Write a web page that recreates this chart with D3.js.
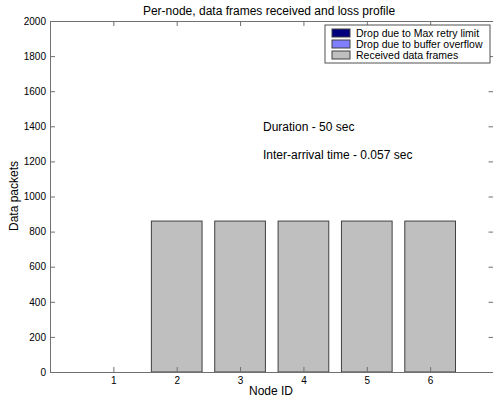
<!DOCTYPE html>
<html>
<head>
<meta charset="utf-8">
<script src="https://cdn.jsdelivr.net/npm/d3@7"></script>
<style>
  body { margin: 0; background: #fff; }
  svg text { font-family: "Liberation Sans", Arial, sans-serif; fill: #000; }
  .axis path, .axis line { stroke: #707070; }
  .axis text { font-size: 10px; }
</style>
</head>
<body>
<div class="chart"></div>
<script>
// chart data
var nodes = [1, 2, 3, 4, 5, 6];
var dropRetry = [0, 0, 0, 0, 0, 0];
var dropBuffer = [0, 0, 0, 0, 0, 0];
var received = [0, 860, 860, 860, 860, 860];
var seriesNames = ["Drop due to Max retry limit", "Drop due to buffer overflow", "Received data frames"];
var seriesColors = ["#00007f", "#7f7fff", "#bfbfbf"];
var yTicks = [0, 200, 400, 600, 800, 1000, 1200, 1400, 1600, 1800, 2000];

var svgWidth = 493;
var svgHeight = 403;
var margin = { top: 21, right: 0, bottom: 31, left: 50 };
var chartWidth = 443.5;
var chartHeight = svgHeight - margin.top - margin.bottom;

var svg = d3.select(".chart")
  .append("svg")
  .attr("width", svgWidth)
  .attr("height", svgHeight);

var chartGroup = svg.append("g")
  .attr("transform", `translate(${margin.left}, ${margin.top})`);

var x = d3.scaleLinear().domain([0, 7]).range([0, chartWidth]);
var y = d3.scaleLinear().domain([0, 2000]).range([chartHeight, 0]);

// stack the series
var table = nodes.map(function(n, i) {
  return { node: n, retry: dropRetry[i], buffer: dropBuffer[i], recv: received[i] };
});
var stack = d3.stack().keys(["retry", "buffer", "recv"]);
var layers = stack(table);

var barW = 0.8;
layers.forEach(function(layer, k) {
  chartGroup.selectAll(".bar" + k)
    .data(layer.filter(function(d) { return d[1] - d[0] > 0; }))
    .enter()
    .append("rect")
    .attr("x", d => x(d.data.node - barW / 2))
    .attr("width", x(barW) - x(0))
    .attr("y", d => y(d[1]))
    .attr("height", d => y(d[0]) - y(d[1]))
    .attr("fill", seriesColors[k])
    .attr("stroke", "#404040")
    .attr("stroke-width", 1);
});

// axes (ticks point inward like matlab)
var fmt = d3.format("d");
var bottomAxis = d3.axisBottom(x).tickValues(nodes).tickFormat(fmt).tickSizeInner(-5).tickSizeOuter(0).tickPadding(5);
var topAxis = d3.axisTop(x).tickValues(nodes).tickSizeInner(-5).tickSizeOuter(0).tickFormat("");
var leftAxis = d3.axisLeft(y).tickValues(yTicks).tickFormat(fmt).tickSizeInner(-5).tickSizeOuter(0).tickPadding(4);
var rightAxis = d3.axisRight(y).tickValues(yTicks).tickSizeInner(-5).tickSizeOuter(0).tickFormat("");

chartGroup.append("g").attr("class", "axis")
  .attr("transform", `translate(0, ${chartHeight})`)
  .call(bottomAxis);
chartGroup.append("g").attr("class", "axis").call(topAxis);
chartGroup.append("g").attr("class", "axis").call(leftAxis);
chartGroup.append("g").attr("class", "axis")
  .attr("transform", `translate(${chartWidth}, 0)`)
  .call(rightAxis);

// title and labels
svg.append("text")
  .attr("x", 269).attr("y", 15)
  .attr("text-anchor", "middle")
  .style("font-size", "12px")
  .text("Per-node, data frames received and loss profile");

svg.append("text")
  .attr("x", 271).attr("y", 395)
  .attr("text-anchor", "middle")
  .style("font-size", "12px")
  .text("Node ID");

svg.append("text")
  .attr("transform", "rotate(-90)")
  .attr("x", -196).attr("y", 18)
  .attr("text-anchor", "middle")
  .style("font-size", "12px")
  .text("Data packets");

// annotations
chartGroup.append("text")
  .attr("x", 213).attr("y", 110)
  .style("font-size", "12px")
  .text("Duration - 50 sec");
chartGroup.append("text")
  .attr("x", 213).attr("y", 138)
  .style("font-size", "12px")
  .text("Inter-arrival time - 0.057 sec");

// legend
var legend = svg.append("g").attr("transform", "translate(325, 25)");
legend.append("rect")
  .attr("width", 165).attr("height", 38)
  .attr("fill", "#fff").attr("stroke", "#505050");
seriesNames.forEach(function(name, i) {
  legend.append("rect")
    .attr("x", 7).attr("y", 4 + i * 11)
    .attr("width", 18).attr("height", 8)
    .attr("fill", seriesColors[i]).attr("stroke", "#404040");
  legend.append("text")
    .attr("x", 31).attr("y", 12 + i * 11)
    .style("font-size", "10.5px")
    .text(name);
});
</script>
</body>
</html>
